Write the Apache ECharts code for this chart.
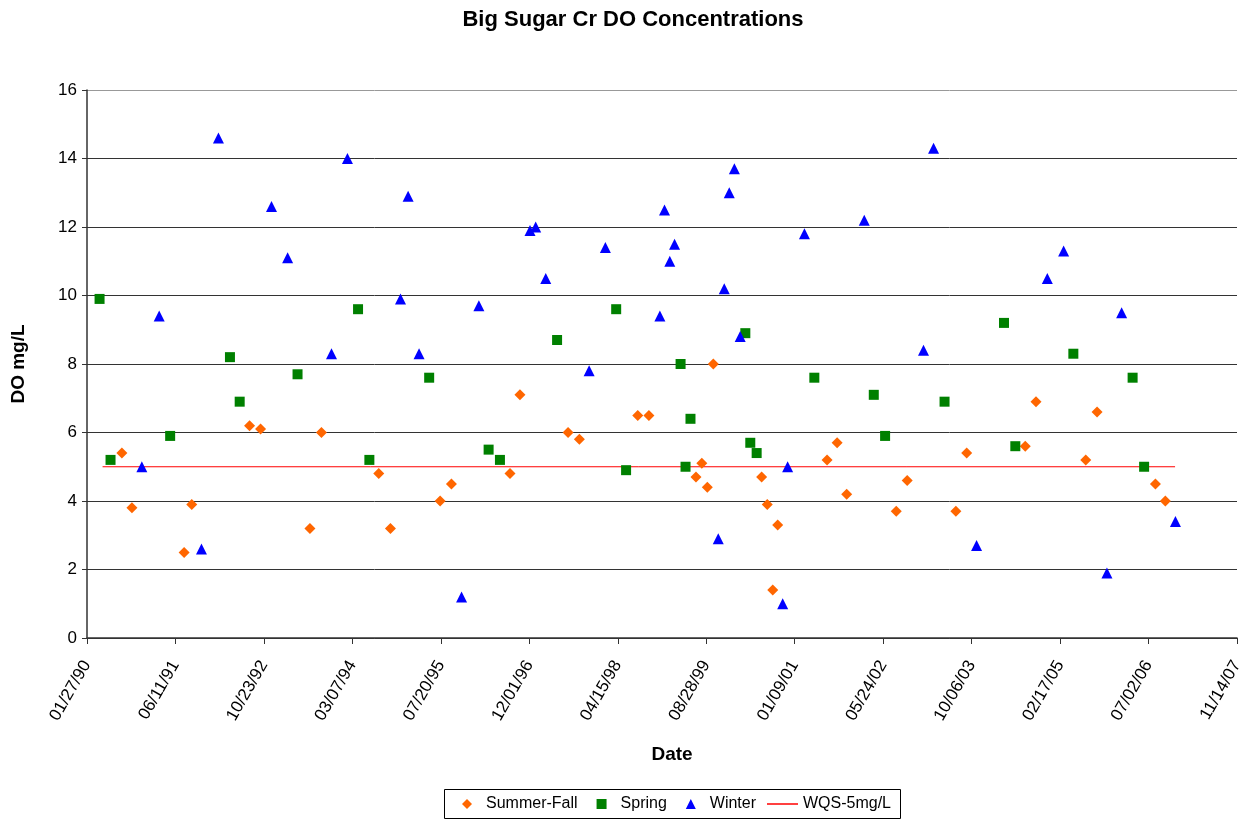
<!DOCTYPE html>
<html>
<head>
<meta charset="utf-8">
<title>Big Sugar Cr DO Concentrations</title>
<script src="https://cdn.jsdelivr.net/npm/echarts@6/dist/echarts.min.js"></script>
<style>
  html, body { margin: 0; padding: 0; background: #fff; }
  #chart { width: 1247px; height: 821px; }
</style>
</head>
<body>
<div id="chart"></div>
<script>
// dates are spreadsheet day serials (32900 = 01/27/90)
const summerFallDates = [33097, 33154, 33449, 33492, 33819, 33881, 34160, 34225, 34549, 34615,
  34896, 34960, 35291, 35347, 35619, 35683, 36013, 36076, 36342, 36375, 36406, 36440, 36713,
  36745, 36776, 36804, 37083, 37140, 37194, 37474, 37536, 37811, 37872, 38203, 38264, 38545,
  38609, 38939, 38995];
const summerFallDO = [5.4, 3.8, 2.5, 3.9, 6.2, 6.1, 3.2, 6.0, 4.8, 3.2,
  4.0, 4.5, 4.8, 7.1, 6.0, 5.8, 6.5, 6.5, 4.7, 5.1, 4.4, 8.0, 4.7,
  3.9, 1.4, 3.3, 5.2, 5.7, 4.2, 3.7, 4.6, 3.7, 5.4, 5.6, 6.9, 5.2,
  6.6, 4.5, 4.0];

const springDates = [32971, 33033, 33370, 33708, 33763, 34090, 34432, 34496, 34834, 35170,
  35234, 35557, 35891, 35947, 36255, 36283, 36311, 36621, 36649, 36685, 37011, 37347, 37411,
  37747, 38083, 38147, 38475, 38810, 38875];
const springDO = [9.9, 5.2, 5.9, 8.2, 6.9, 7.7, 9.6, 5.2, 7.6, 5.5,
  5.2, 8.7, 9.6, 4.9, 8.0, 5.0, 6.4, 8.9, 5.7, 5.4, 7.6, 7.1, 5.9,
  6.9, 9.2, 5.6, 8.3, 7.6, 5.0];

const winterDates = [33210, 33308, 33547, 33643, 33943, 34034, 34282, 34372, 34672, 34715,
  34777, 35017, 35115, 35404, 35436, 35493, 35738, 35830, 36138, 36164, 36194, 36221, 36468,
  36502, 36530, 36559, 36592, 36832, 36860, 36955, 37293, 37628, 37685, 37928, 38328, 38420,
  38665, 38748, 39052];
const winterDO = [5.0, 9.4, 2.6, 14.6, 12.6, 11.1, 8.3, 14.0, 9.9, 12.9,
  8.3, 1.2, 9.7, 11.9, 12.0, 10.5, 7.8, 11.4, 9.4, 12.5, 11.0, 11.5, 2.9,
  10.2, 13.0, 13.7, 8.8, 1.0, 5.0, 11.8, 12.2, 8.4, 14.3, 2.7, 10.5, 11.3,
  1.9, 9.5, 3.4];

const wqsDates = [32988, 39050];
const wqsValue = [5, 5];

function pairs(xs, ys) {
  return xs.map((x, i) => [x, ys[i]]);
}

function fmtSerial(v) {
  const d = new Date((v - 25569) * 86400000);
  const mm = String(d.getUTCMonth() + 1).padStart(2, '0');
  const dd = String(d.getUTCDate()).padStart(2, '0');
  const yy = String(d.getUTCFullYear() % 100).padStart(2, '0');
  return `${mm}/${dd}/${yy}`;
}

const font = "'Liberation Sans', Arial, sans-serif";
const chart = echarts.init(document.getElementById('chart'));

const legendText = { fontFamily: font, fontSize: 16, color: '#000' };

const option = {
  animation: false,
  backgroundColor: '#fff',
  textStyle: { fontFamily: font, color: '#000' },
  title: {
    text: 'Big Sugar Cr DO Concentrations',
    left: 628,
    textAlign: 'center',
    top: 4,
    textStyle: { fontFamily: font, fontSize: 22, fontWeight: 'bold', color: '#000' }
  },
  // legend box frame, the items are two legends so the line icon can be wider
  graphic: [{
    type: 'rect',
    shape: { x: 444.5, y: 789.5, width: 456, height: 29 },
    style: { fill: 'none', stroke: '#000', lineWidth: 1 },
    silent: true
  }],
  legend: [
    {
      left: 462,
      top: 796,
      padding: 0,
      itemGap: 19,
      itemWidth: 10,
      itemHeight: 10,
      textStyle: Object.assign({ padding: [0, 0, 0, 9] }, legendText),
      data: [
        { name: 'Summer-Fall', icon: 'diamond' },
        { name: 'Spring', icon: 'rect' },
        { name: 'Winter', icon: 'triangle' }
      ]
    },
    {
      left: 767,
      top: 796,
      padding: 0,
      itemWidth: 31,
      itemHeight: 1.5,
      textStyle: legendText,
      data: [{ name: 'WQS-5mg/L', icon: 'rect' }]
    }
  ],
  grid: { left: 87, right: 10, top: 90, bottom: 183, containLabel: false },
  xAxis: {
    type: 'value',
    min: 32900,
    max: 39400,
    interval: 500,
    name: 'Date',
    nameLocation: 'middle',
    nameGap: 107,
    nameTextStyle: { fontFamily: font, fontSize: 19, fontWeight: 'bold', color: '#000', padding: [0, 0, 0, 20] },
    axisLine: { show: true, onZero: false, lineStyle: { color: '#333', width: 1.5 } },
    axisTick: { show: true, length: 6, lineStyle: { color: '#333' } },
    axisLabel: {
      rotate: 60,
      margin: 24,
      fontFamily: font,
      fontSize: 17,
      color: '#000',
      formatter: fmtSerial
    },
    splitLine: { show: false }
  },
  yAxis: {
    type: 'value',
    min: 0,
    max: 16,
    interval: 2,
    name: 'DO mg/L',
    nameLocation: 'middle',
    nameGap: 59,
    nameTextStyle: { fontFamily: font, fontSize: 19, fontWeight: 'bold', color: '#000' },
    axisLine: { show: true, lineStyle: { color: '#333', width: 1.5 } },
    axisTick: { show: true, length: 5, lineStyle: { color: '#333' } },
    axisLabel: { fontFamily: font, fontSize: 17, color: '#000', margin: 10 },
    splitLine: {
      show: true,
      lineStyle: {
        color: ['#333', '#333', '#333', '#333', '#333', '#333', '#333', '#333', '#999'],
        width: 1
      }
    }
  },
  series: [
    {
      name: 'Summer-Fall',
      type: 'scatter',
      symbol: 'diamond',
      symbolSize: 11,
      itemStyle: { color: '#FF6600', opacity: 1 },
      data: pairs(summerFallDates, summerFallDO)
    },
    {
      name: 'Spring',
      type: 'scatter',
      symbol: 'rect',
      symbolSize: 10,
      itemStyle: { color: '#008000', opacity: 1 },
      data: pairs(springDates, springDO)
    },
    {
      name: 'Winter',
      type: 'scatter',
      symbol: 'triangle',
      symbolSize: 11,
      itemStyle: { color: '#0000FF', opacity: 1 },
      data: pairs(winterDates, winterDO)
    },
    {
      name: 'WQS-5mg/L',
      type: 'line',
      symbol: 'none',
      lineStyle: { color: '#FF0000', width: 1 },
      itemStyle: { color: '#FF0000' },
      z: 1,
      data: pairs(wqsDates, wqsValue)
    }
  ]
};

chart.setOption(option);
</script>
</body>
</html>
